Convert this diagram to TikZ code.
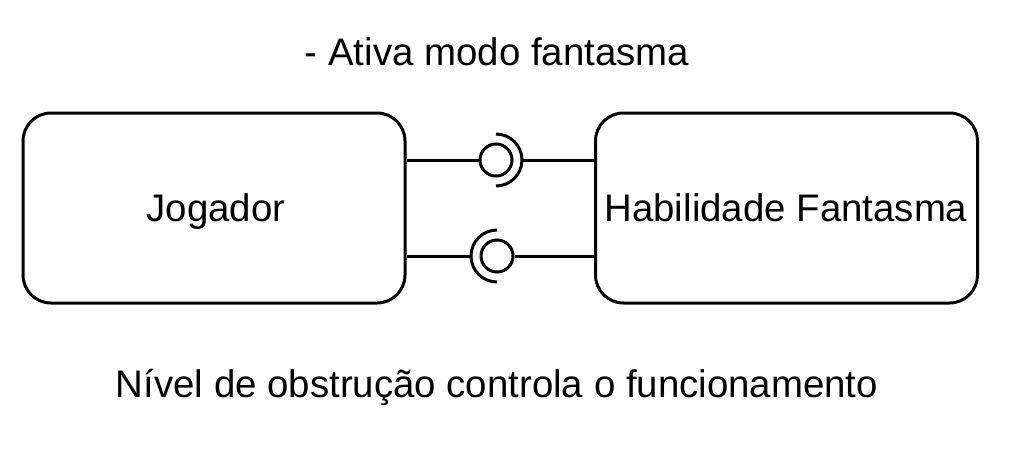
\documentclass[tikz,border=0pt]{standalone}
\usepackage{fontspec}
\setmainfont{Liberation Sans}
\usetikzlibrary{positioning}

\begin{document}
\begin{tikzpicture}[
x=1pt, y=-1pt,
font=\fontsize{38.4}{46}\selectfont,
block/.style={draw, line width=3pt, rounded corners=28pt, minimum width=382pt, minimum height=190pt, inner sep=0pt},
ball/.style={draw, circle, line width=3pt, minimum size=32pt, inner sep=0pt},
socket/.style={line width=3pt},
wire/.style={line width=3pt}
]
    % Frame
    \useasboundingbox (0,0) rectangle (1028,461);

    % Draw blocks
    \node[block] (jogador) at (214,208) {};
    \node[block] (habilidade) at (786.5,208) {};
    \node[anchor=base] (jogtxt) at (216,221) {Jogador};
    \node[anchor=base] (habtxt) at (786,221) {Habilidade Fantasma};

    % Upper interface
    \node[ball] (ballA) at (496,160) {};
    \coordinate (sockA) at (522,160);
    \draw[socket] (496,134) arc[start angle=-90, end angle=90, radius=26];
    \draw[wire] (jogador.east |- ballA) -- (ballA.west);
    \draw[wire] (sockA) -- (habilidade.west |- sockA);

    % Lower interface
    \node[ball] (ballB) at (497,256) {};
    \coordinate (sockB) at (471,256);
    \draw[socket] (497,230) arc[start angle=-90, end angle=-270, radius=26];
    \draw[wire] (jogador.east |- sockB) -- (sockB);
    \draw[wire] (ballB.east) -- (habilidade.west |- ballB);

    % Labels
    \node[anchor=base] (ativa) at (497,65) {- Ativa modo fantasma};
    \node[anchor=base] (nivel) at (497,397) {Nível de obstrução controla o funcionamento};

\end{tikzpicture}
\end{document}
